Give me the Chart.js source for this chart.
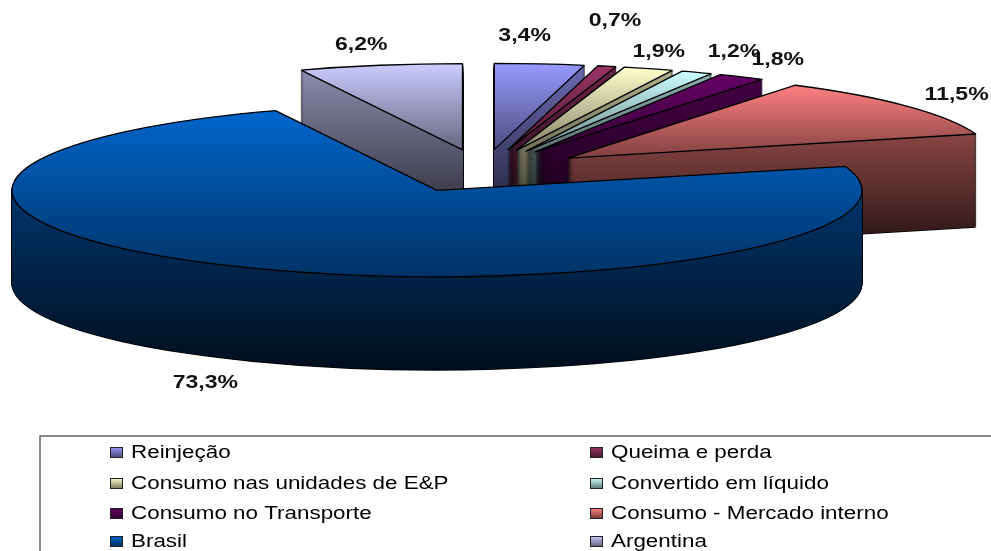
<!DOCTYPE html>
<html><head><meta charset="utf-8">
<style>html,body{margin:0;padding:0;background:#fff}canvas{display:block}</style>
<script src="https://cdn.jsdelivr.net/npm/chart.js@4/dist/chart.umd.js"></script>
</head><body>
<div style="width:991px;height:551px"><canvas id="c" width="991" height="551"></canvas></div>
<script>
const categories = ['Reinjeção','Queima e perda','Consumo nas unidades de E&P','Convertido em líquido','Consumo no Transporte','Consumo - Mercado interno','Brasil','Argentina'];
const shares = [3.4,0.7,1.9,1.2,1.8,11.5,73.3,6.2];
const sliceColors = ['#9999FF','#993366','#FFFFCC','#CCFFFF','#660066','#FF8080','#0066CC','#CCCCFF'];

// 3-D look
const CX = 483, CY = 171, TILT = 0.203, RADIUS = 425, EXPLODE = 106, DEPTH = 93;
const drawOrder = [7,0,1,2,3,4,5,6];
const labelNudgeX = [-15,8,10,37,36,49,-47,-19];
const labelNudgeY = [-28,-45,-17,-20,-17,-11,115,-20];
// legend layout
const legendBox = {x:40, y:436};
const legendColX = [110,590], legendRowY = [453,484,514,542];
const TEXT_STRETCH = 1.28;

function rgb(hex,f){
  const n=parseInt(hex.slice(1),16);
  return `rgb(${Math.round((n>>16&255)*f)},${Math.round((n>>8&255)*f)},${Math.round((n&255)*f)})`;
}
function withOpts(el,over,fn){
  const base=el.options;
  el.options=Object.assign({},base,{spacing:0,offset:0,borderRadius:0,borderAlign:'center',borderColor:'#000',borderWidth:0},over);
  fn();
  el.options=base;
}
const pie3d = {
  id:'pie3d',
  beforeDatasetsDraw(chart){
    const ctx=chart.ctx, els=chart.getDatasetMeta(0).data;
    const rawStroke=ctx.stroke;
    ctx.stroke=function(){ctx.save();ctx.setTransform(1,0,0,1,0,0);rawStroke.call(ctx);ctx.restore();};
    drawOrder.forEach(i=>{
      const el=els[i], mid=(el.startAngle+el.endAngle)/2;
      const ex=Math.cos(mid)*EXPLODE, ey=Math.sin(mid)*EXPLODE;
      // projected vertical extent of the top face
      let minY=CY+ey*TILT, maxY=minY;
      for(let s=0;s<=60;s++){
        const a=el.startAngle+(el.endAngle-el.startAngle)*s/60;
        const y=CY+(ey+Math.sin(a)*RADIUS)*TILT;
        if(y<minY)minY=y; if(y>maxY)maxY=y;
      }
      const place=(dx,dy)=>{
        ctx.setTransform(1,0,0,TILT,CX+dx-el.x,CY+dy-el.y*TILT);
        ctx.translate(ex,ey);
      };
      const localY=(Y,dy)=>el.y+(Y-CY-dy)/TILT-ey;
      const paint=(dx,dy,fill,bw)=>{
        ctx.save();place(dx,dy);
        withOpts(el,{backgroundColor:fill,borderWidth:bw||0},()=>el.draw(ctx));
        ctx.restore();
      };
      // black silhouette of the wall
      paint(0,DEPTH+0.8,'#000');
      for(let d=DEPTH;d>0;d--){paint(-0.7,d,'#000');paint(0.7,d,'#000');}
      // wall
      for(let d=DEPTH;d>0;d--){
        const g=ctx.createLinearGradient(0,localY(minY,d),0,localY(maxY+DEPTH,d));
        g.addColorStop(0,rgb(sliceColors[i],0.7));
        g.addColorStop(1,rgb(sliceColors[i],0.14));
        paint(0,d,g);
      }
      // top face
      const g=ctx.createLinearGradient(0,localY(minY,0),0,localY(maxY,0));
      g.addColorStop(0,rgb(sliceColors[i],1));
      g.addColorStop(1,rgb(sliceColors[i],0.5));
      paint(0,0,g,1.3);
    });
    ctx.stroke=rawStroke;
    ctx.setTransform(1,0,0,1,0,0);
    return false;
  },
  afterDraw(chart){
    const ctx=chart.ctx, els=chart.getDatasetMeta(0).data;
    ctx.save();
    ctx.fillStyle='#111';ctx.textAlign='center';ctx.textBaseline='middle';
    ctx.font='bold 18px "Liberation Sans"';
    els.forEach((el,i)=>{
      const mid=(el.startAngle+el.endAngle)/2, r=RADIUS+EXPLODE;
      const x=CX+Math.cos(mid)*r+labelNudgeX[i], y=CY+Math.sin(mid)*r*TILT+labelNudgeY[i];
      ctx.save();ctx.translate(x,y);ctx.scale(TEXT_STRETCH,1);
      ctx.fillText(shares[i].toFixed(1).replace('.',',')+'%',0,0);
      ctx.restore();
    });
    // legend
    ctx.strokeStyle='#666';ctx.lineWidth=1.5;
    ctx.beginPath();ctx.moveTo(chart.width,legendBox.y);ctx.lineTo(legendBox.x,legendBox.y);ctx.lineTo(legendBox.x,chart.height);ctx.stroke();
    ctx.textAlign='left';ctx.font='17.5px "Liberation Sans"';ctx.fillStyle='#000';
    categories.forEach((t,i)=>{
      const x=legendColX[i%2], y=legendRowY[i>>1];
      const g=ctx.createLinearGradient(0,y-6,0,y+4);
      g.addColorStop(0,rgb(sliceColors[i],1));g.addColorStop(1,rgb(sliceColors[i],0.5));
      ctx.fillStyle=g;ctx.fillRect(x+.5,y-5.5,12,10);
      ctx.strokeStyle='#222';ctx.lineWidth=1;ctx.strokeRect(x+.5,y-5.5,12,10);
      ctx.fillStyle='#000';
      ctx.save();ctx.translate(x+21,y);ctx.scale(TEXT_STRETCH,1);ctx.fillText(t,0,0);ctx.restore();
    });
    ctx.restore();
  }
};
new Chart(document.getElementById('c'),{
  type:'pie',
  data:{labels:categories,datasets:[{data:shares,backgroundColor:sliceColors,borderWidth:0,clip:false}]},
  options:{responsive:false,animation:false,rotation:0,radius:RADIUS,
    plugins:{legend:{display:false},tooltip:{enabled:false}}},
  plugins:[pie3d]
});
</script>
</body></html>
